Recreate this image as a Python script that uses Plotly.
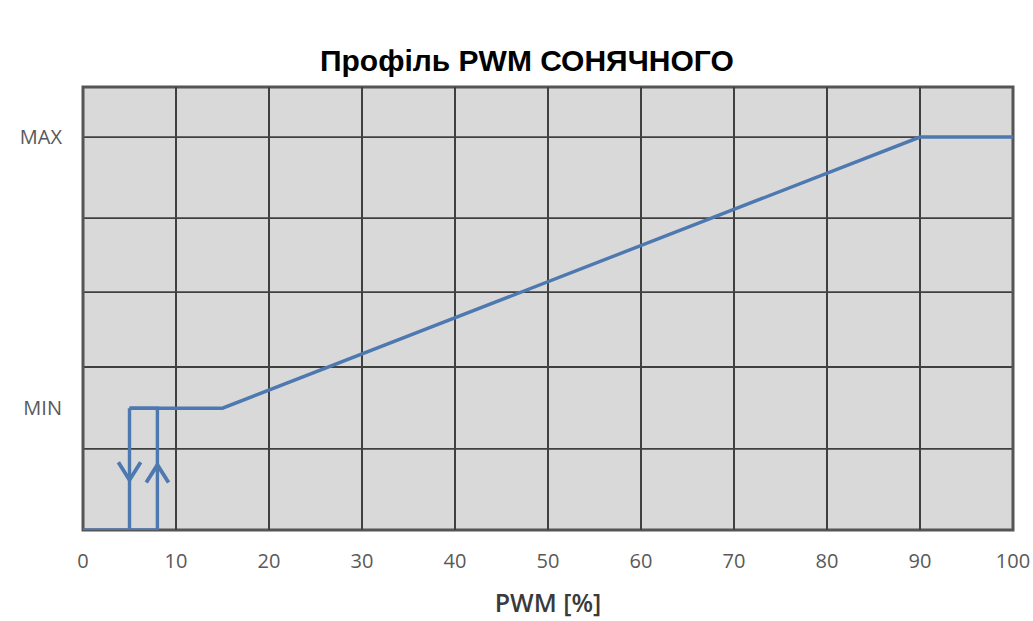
import plotly.graph_objects as go

# ---- data ----
title_text = "Профіль PWM СОНЯЧНОГО"
x_title = "PWM [%]"
x_ticks = [0, 10, 20, 30, 40, 50, 60, 70, 80, 90, 100]

# y scale: 0 = bottom of plot, 100 = top of plot
y_min_level = 27.5
y_max_level = 88.7
y_grid = [18.3, 36.8, 53.7, 70.4, 88.7]
y_labels = ["MIN", "MAX"]

# main profile: MIN at 15 %, rising to MAX at 90 %
prof_x = [5, 15, 90, 100]
prof_y = [y_min_level, y_min_level, y_max_level, y_max_level]

# hysteresis loop near zero
loop_x = [5, 5, 0, 8, 8, 5]
loop_y = [y_min_level, 0, 0, 0, y_min_level, y_min_level]

# direction arrows on the hysteresis legs (x, tip y, direction)
arrow_x = [5, 8]
arrow_tip_y = [11.3, 14.7]
arrow_dir = [-1, 1]

line_color = "#4d78b0"
grid_color = "#404040"

fig = go.Figure()

fig.add_trace(go.Scatter(x=prof_x, y=prof_y, mode="lines",
                         line=dict(color=line_color, width=3.4), hoverinfo="skip"))
fig.add_trace(go.Scatter(x=loop_x, y=loop_y, mode="lines",
                         line=dict(color=line_color, width=3.4), hoverinfo="skip"))

# chevron arrows built from arrow data
for ax_, ty, d in zip(arrow_x, arrow_tip_y, arrow_dir):
    dx, dy = 1.2, 4.0
    fig.add_trace(go.Scatter(
        x=[ax_ - dx, ax_, ax_ + dx],
        y=[ty - d * dy, ty, ty - d * dy],
        mode="lines", line=dict(color=line_color, width=3.8), hoverinfo="skip"))

# horizontal grid lines
for gy in y_grid:
    fig.add_shape(type="line", xref="paper", yref="y", x0=0, x1=1, y0=gy, y1=gy,
                  line=dict(color=grid_color, width=1.8), layer="below")

# border
fig.add_shape(type="rect", xref="paper", yref="paper", x0=0, x1=1, y0=0, y1=1,
              line=dict(color="#555555", width=3), layer="below")

fig.update_layout(
    width=1033, height=621,
    autosize=False,
    margin=dict(l=83, r=20, t=87, b=91, autoexpand=False),
    paper_bgcolor="white",
    plot_bgcolor="#d9d9d9",
    showlegend=False,
    title=dict(text="<b>" + title_text + "</b>", x=0.510, xanchor="center",
               y=0.903, yanchor="middle",
               font=dict(family="Liberation Sans, Arial", size=30, color="black")),
    xaxis=dict(range=[0, 100], tickvals=x_ticks, ticktext=[str(v) for v in x_ticks],
               showgrid=True, gridcolor=grid_color, gridwidth=1.8, zeroline=False,
               showline=False, ticks="", ticklabelstandoff=17, automargin=False,
               ticklabeloverflow="allow",
               tickfont=dict(family="Open Sans", size=20, color="#595959"),
               title=dict(text=x_title, standoff=21,
                          font=dict(family="Open Sans", size=25, color="#3a3a3a",
                                    weight=600))),
    yaxis=dict(range=[0, 100], tickvals=[y_min_level, y_max_level], ticktext=y_labels,
               showgrid=False, zeroline=False, showline=False, ticks="",
               ticklabelstandoff=20, automargin=False,
               tickfont=dict(family="Open Sans", size=20, color="#595959")),
)

fig.write_html(
    "out.html",
    config={"displayModeBar": False, "responsive": False},
    post_script="document.body.style.margin='0px';document.body.style.overflow='hidden';",
)
